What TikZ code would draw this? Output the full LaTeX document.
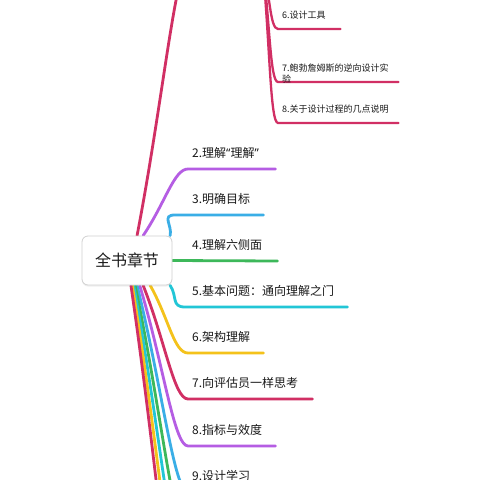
\documentclass[tikz,border=0pt]{standalone}
\usepackage{fontspec}
\newfontfamily\cjk{Noto Sans CJK SC}
\newfontfamily\quotefont{Noto Sans}
\usetikzlibrary{calc,backgrounds,shadows}

\definecolor{crim}{HTML}{D12F64}
\definecolor{purp}{HTML}{B55DE3}
\definecolor{blu}{HTML}{3AAEE6}
\definecolor{grn}{HTML}{3DB85A}
\definecolor{cyn}{HTML}{22C6D6}
\definecolor{yel}{HTML}{F4C21B}

\begin{document}
\begin{tikzpicture}[x=1pt, y=-1pt,
    root/.style={draw=black!18, line width=0.8pt, rounded corners=6pt, fill=white,
      minimum width=90pt, minimum height=49pt, text=black!90,
      font=\cjk\fontsize{16}{18}\selectfont,
      drop shadow={opacity=0.12, shadow xshift=0pt, shadow yshift=-1.5pt}},
    topic/.style={anchor=south west, inner xsep=4pt, inner ysep=9pt, text depth=2pt,
      align=left, text=black!90, font=\cjk\fontsize{12}{14}\selectfont},
    subtopic/.style={topic, inner ysep=8.5pt, font=\cjk\fontsize{9}{11}\selectfont},
    limb/.style={line width=2.8pt, line cap=round,
      to path={.. controls ($(\tikztostart)!0.5!(\tikztotarget)$)
        and ($(\tikztotarget)+(-14,0)$) .. (\tikztotarget)}},
    twig/.style={limb, line width=2.3pt,
      to path={.. controls ($(\tikztostart)!0.5!(\tikztotarget)$)
        and ($(\tikztotarget)+(-8,0)$) .. (\tikztotarget)}}]
  \useasboundingbox (0,0) rectangle (480,480);

  % centre
  \node[root] (root) at (127,260.5) {全书章节};

  % chapter 1 lies above the picture, only its sub-topics show
  \coordinate (t1s) at (190,-40);
  \coordinate (t1e) at (262,-40);
  \node[subtopic, text width=54pt] (s6) at (278,29) {6.设计工具};
  \node[subtopic, text width=112pt] (s7) at (278,82) {7.鲍勃詹姆斯的逆向设计实\\验};
  \node[subtopic, text width=112pt] (s8) at (278,123) {8.关于设计过程的几点说明};

  % chapters
  \node[topic, text width=79pt] (b2) at (188,169) {2.理解{\quotefont “}理解{\quotefont ”}};
  \node[topic, text width=67pt] (b3) at (188,215) {3.明确目标};
  \node[topic, text width=81pt] (b4) at (188,261) {4.理解六侧面};
  \node[topic, text width=151pt] (b5) at (188,307) {5.基本问题：通向理解之门};
  \node[topic, text width=67pt] (b6) at (188,353) {6.架构理解};
  \node[topic, text width=116pt] (b7) at (188,399) {7.向评估员一样思考};
  \node[topic, text width=79pt] (b8) at (188,446) {8.指标与效度};
  \node[topic, text width=74pt] (b9) at (188,492) {9.设计学习};
  % the rest run off the bottom
  \coordinate (b10) at (188,538);
  \coordinate (b11) at (188,584);
  \coordinate (b12) at (188,630);
  \coordinate (b13) at (188,676);

  \begin{scope}[on background layer]
    \fill[white] (0,0) rectangle (480,480);
    \draw[limb, crim] (root.68) to (t1s) -- (t1e);
    \draw[twig, crim] (t1e) to (s6.south west) -- (s6.south east);
    \draw[twig, crim] (t1e) to (s7.south west) -- (s7.south east);
    \draw[twig, crim] (t1e) to (s8.south west) -- (s8.south east);

    \draw[limb, purp] (root.57) to (b2.south west) -- (b2.south east);
    \draw[limb, blu] (root.30) to ([xshift=-13pt]b3.south west) -- (b3.south east);
    \draw[limb, grn] (root.east) -- (b4.south east);
    \draw[limb, cyn] (root.-30) to ([xshift=-3pt]b5.south west) -- (b5.south east);
    \draw[limb, yel] (root.-47) to (b6.south west) -- (b6.south east);
    \draw[limb, crim] (root.-57) to (b7.south west) -- (b7.south east);
    \draw[limb, purp] (root.-63) to (b8.south west) -- (b8.south east);
    \draw[limb, blu] (root.-68) to (b9.south west) -- (b9.south east);
    \draw[limb, grn] (root.-72) to (b10);
    \draw[limb, cyn] (root.-75) to (b11);
    \draw[limb, yel] (root.-78) to (b12);
    \draw[limb, crim] (root.-81) to (b13);
  \end{scope}
\end{tikzpicture}
\end{document}
